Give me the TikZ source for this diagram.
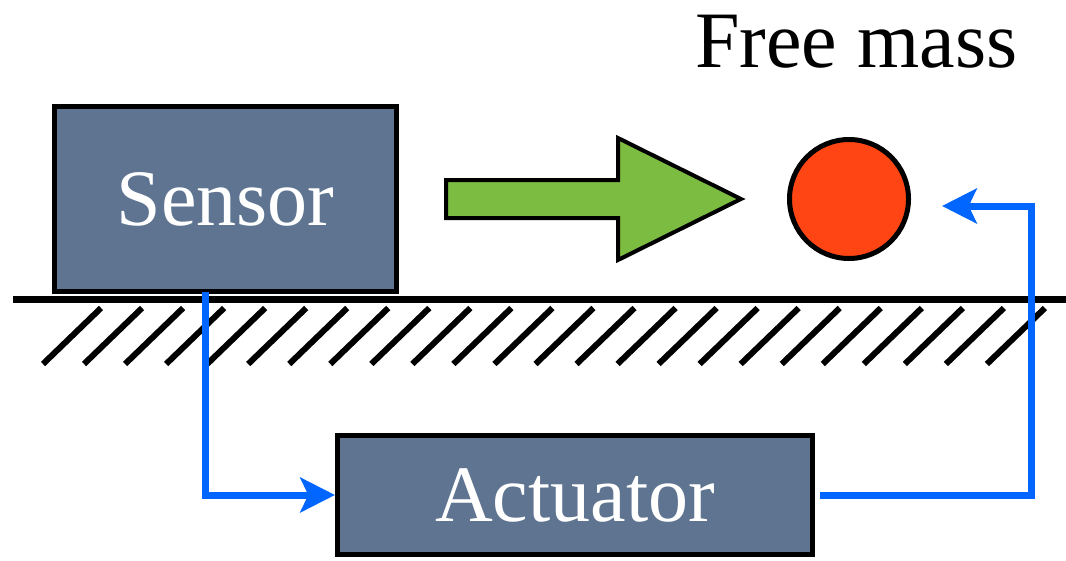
\documentclass[tikz,border=0pt]{standalone}
\usepackage{fontspec}
\setmainfont{Liberation Serif}
\usepackage{xcolor}
\usetikzlibrary{arrows.meta}
\definecolor{slateblock}{HTML}{5E7491}
\definecolor{pushgreen}{HTML}{7BBC41}
\definecolor{massred}{HTML}{FF4513}
\definecolor{loopblue}{HTML}{0066FF}

\begin{document}
\begin{tikzpicture}[
  x=0.75pt,
  y=-0.75pt,
  every node/.style={font=\fontsize{60}{72}\selectfont},
  block/.style={draw=black, line width=3.75pt, fill=slateblock, text=white,
    inner sep=0pt, rectangle},
  ground/.style={black, line width=5.25pt},
  hatch/.style={black, line width=4.5pt},
  push/.style={draw=black, line width=3pt, fill=pushgreen, line join=miter},
  body/.style={draw=black, line width=3.75pt, fill=massred, circle, inner sep=0pt},
  signal/.style={loopblue, line width=5.25pt,
    -{Stealth[length=26pt, width=26pt, inset=6pt]}}
]
  \useasboundingbox (0,0) rectangle (1066,560);

  %% ---- blocks ---------------------------------------------------------
  \node[block, minimum width=256.5pt, minimum height=138.75pt]
    (sensor) at (225.5,199) {Sensor};
  \node[block, minimum width=356.25pt, minimum height=89.25pt]
    (actuator) at (575,495) {Actuator};

  %% ---- free mass ------------------------------------------------------
  \node[body, minimum size=89.25pt] (mass) at (849,199) {};
  \node[anchor=base west, inner sep=0pt] (masslabel) at (695,68) {Free mass};

  \draw[push] (446,180) -- (618,180) -- (618,138) -- (741,199)
    -- (618,260) -- (618,218) -- (446,218) -- cycle;

  %% ---- ground ---------------------------------------------------------
  \draw[ground] (13,299) -- (1066,299);
  \foreach \i in {0,...,23}
    \draw[hatch] ({43+41.04*\i},364) -- ({101+41.04*\i},308);

  %% ---- feedback loop --------------------------------------------------
  \coordinate (tap) at (205,292);
  \coordinate (feed) at (1031,206);
  \coordinate (massin) at (942,206);

  \draw[signal] (tap) |- (actuator.west);
  \draw[signal, shorten <=4pt] (actuator.east) -| (feed) -- (massin);

\end{tikzpicture}
\end{document}
